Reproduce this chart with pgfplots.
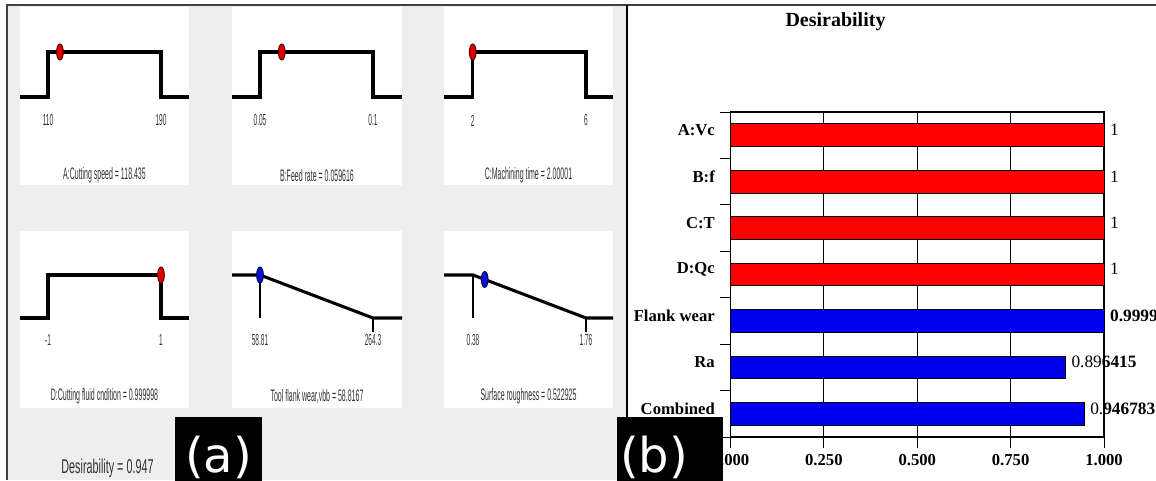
\documentclass[border=0pt]{standalone}
\usepackage{pgfplots}
\pgfplotsset{compat=1.18}
\usepackage{fontspec}
\setmainfont{Liberation Serif}
\newfontfamily\capfont[FakeStretch=0.42]{Liberation Sans}
\newfontfamily\tickfont[FakeStretch=0.41]{Liberation Sans}
\newfontfamily\desfont[FakeStretch=0.54]{Liberation Sans}
\newfontfamily\labfont{DejaVu Sans}
\definecolor{panelgray}{HTML}{EEEEEE}
\definecolor{txtgray}{HTML}{333333}
\definecolor{barred}{HTML}{FF0000}
\definecolor{barblue}{HTML}{0000F0}
\definecolor{ptred}{HTML}{E00000}
\definecolor{ptblue}{HTML}{1010D0}
\pgfplotsset{
 ramp/.style={scale only axis, hide axis, clip=false, anchor=south west},
 row1/.style={height=133.5pt, ymin=-1.956, ymax=2},
 row2/.style={height=132.75pt, ymin=-2.093, ymax=2.023},
 curve/.style={black, line width=2.3pt, no marks, line join=miter},
 vline/.style={black, line width=0.8pt, no marks},
 rpt/.style={only marks, mark=*, mark size=6pt, mark options={xscale=0.42, fill=ptred, draw=black!65!red, line width=0.7pt}},
 bpt/.style={only marks, mark=*, mark size=6pt, mark options={xscale=0.42, fill=ptblue, draw=black!65!blue, line width=0.7pt}},
}
\tikzset{
 ticktxt/.style={font=\tickfont\fontsize{12}{14}\selectfont, text=txtgray},
 captxt/.style={font=\capfont\fontsize{12.5}{14}\selectfont, text=txtgray},
}
\begin{document}
\begin{tikzpicture}
\useasboundingbox (0,0) rectangle (867pt,360pt);
\begin{scope}[x=0.75pt,y=-0.75pt,yshift=360pt]
 \fill[panelgray] (7,4) rectangle (627,480);
 \fill[white] (20,7) rectangle (189,185);
 \fill[white] (232,7) rectangle (402,185);
 \fill[white] (444,7) rectangle (613,185);
 \fill[white] (20,231) rectangle (189,408);
 \fill[white] (232,231) rectangle (402,408);
 \fill[white] (444,231) rectangle (613,408);
\end{scope}

% A: cutting speed
\begin{axis}[ramp,row1,at={(15pt,221.25pt)},width=126.75pt,xmin=90.18,xmax=209.82]
\addplot[curve] coordinates {(90.18,0)(110,0)(110,1)(190,1)(190,0)(209.82,0)};
\addplot[rpt] coordinates {(118.435,1)};
\node[ticktxt] at (axis cs:110,-0.522) {110};
\node[ticktxt] at (axis cs:190,-0.522) {190};
\node[captxt] at (rel axis cs:0.5,0.054) {A:Cutting speed = 118.435};
\end{axis}
% B: feed rate
\begin{axis}[ramp,row1,at={(174pt,221.25pt)},width=127.5pt,xmin=0.037611,xmax=0.112832]
\addplot[curve] coordinates {(0.037611,0)(0.05,0)(0.05,1)(0.1,1)(0.1,0)(0.112832,0)};
\addplot[rpt] coordinates {(0.059616,1)};
\node[ticktxt] at (axis cs:0.05,-0.522) {0.05};
\node[ticktxt] at (axis cs:0.1,-0.522) {0.1};
\node[captxt] at (rel axis cs:0.5,0.054) {B:Feed rate = 0.059616};
\end{axis}
% C: machining time
\begin{axis}[ramp,row1,at={(333pt,221.25pt)},width=126.75pt,xmin=0.987,xmax=6.953]
\addplot[curve] coordinates {(0.987,0)(2,0)(2,1)(6,1)(6,0)(6.953,0)};
\addplot[rpt] coordinates {(2.00001,1)};
\node[ticktxt] at (axis cs:2,-0.522) {2};
\node[ticktxt] at (axis cs:6,-0.522) {6};
\node[captxt] at (rel axis cs:0.5,0.054) {C:Machining time = 2.00001};
\end{axis}
% D: cutting fluid
\begin{axis}[ramp,row2,at={(15pt,54pt)},width=126.75pt,xmin=-1.4956,xmax=1.4956]
\addplot[curve] coordinates {(-1.4956,0)(-1,0)(-1,1)(1,1)(1,0)(1.4956,0)};
\addplot[rpt] coordinates {(0.999998,1)};
\node[ticktxt] at (axis cs:-1,-0.505) {-1};
\node[ticktxt] at (axis cs:1,-0.505) {1};
\node[captxt] at (rel axis cs:0.5,0.064) {D:Cutting fluid cndition = 0.999998};
\end{axis}
% Tool flank wear
\begin{axis}[ramp,row2,at={(174pt,54pt)},width=127.5pt,xmin=7.892,xmax=317.04]
\addplot[vline] coordinates {(58.81,1)(58.81,0)};
\addplot[vline] coordinates {(264.3,0)(264.3,-0.326)};
\addplot[curve] coordinates {(7.892,1)(58.81,1)(264.3,0)(317.04,0)};
\addplot[bpt] coordinates {(58.8167,0.9999)};
\node[ticktxt] at (axis cs:58.81,-0.505) {58.81};
\node[ticktxt] at (axis cs:264.3,-0.505) {264.3};
\node[captxt] at (rel axis cs:0.5,0.064) {Tool flank wear,vbb = 58.8167};
\end{axis}
% Surface roughness
\begin{axis}[ramp,row2,at={(333pt,54pt)},width=126.75pt,xmin=0.02585,xmax=2.0897]
\addplot[vline] coordinates {(0.38,1)(0.38,0)};
\addplot[vline] coordinates {(1.76,0)(1.76,-0.326)};
\addplot[curve] coordinates {(0.02585,1)(0.38,1)(1.76,0)(2.0897,0)};
\addplot[bpt] coordinates {(0.522925,0.896415)};
\node[ticktxt] at (axis cs:0.38,-0.505) {0.38};
\node[ticktxt] at (axis cs:1.76,-0.505) {1.76};
\node[captxt] at (rel axis cs:0.5,0.064) {Surface roughness = 0.522925};
\end{axis}

% (b) desirability bars
\begin{axis}[
 at={(547.9pt,32.25pt)}, anchor=south west, scale only axis,
 width=280.1pt, height=243.75pt,
 xmin=0, xmax=1, ymin=-0.5, ymax=6.5, y dir=reverse,
 xtick={0,0.25,0.5,0.75,1}, xticklabels={0.000,0.250,0.500,0.750,1.000},
 ytick={0,...,6}, yticklabels={A:Vc,B:f,C:T,D:Qc,Flank wear,Ra,Combined},
 minor ytick={-0.5,0.5,...,6.5},
 tick align=outside, major tick length=8.25pt, minor tick length=7.9pt,
 major y tick style={draw=none},
 every tick/.style={black, line width=0.75pt},
 xtick pos=bottom, ytick pos=left,
 xmajorgrids, grid style={black, line width=0.75pt},
 axis line style={black, line width=0.8pt},
 ticklabel style={font=\bfseries\fontsize{12.5}{14}\selectfont},
 yticklabel style={yshift=4pt},
 xticklabel style={yshift=-1pt},
 point meta=explicit symbolic,
 nodes near coords,
 every node near coord/.style={font=\fontsize{13}{15}\selectfont, anchor=west, yshift=4pt, xshift=1pt},
 clip=false,
]
\addplot[xbar, bar width=17pt, bar shift=0pt, fill=barred, draw=black, line width=0.6pt]
 coordinates {(1,0) [1] (1,1) [1] (1,2) [1] (1,3) [1]};
\addplot[xbar, bar width=17pt, bar shift=0pt, fill=barblue, draw=black, line width=0.6pt]
 coordinates {(0.9999,4) [\textbf{0.9999}] (0.896415,5) [0.89\textbf{6415}] (0.946783,6) [0.\textbf{946783}]};
\end{axis}

\begin{scope}[x=0.75pt,y=-0.75pt,yshift=360pt]
 \draw[line width=1.5pt, black!75] (7,480) -- (7,4.5) -- (1160,4.5);
 \draw[line width=1.5pt, black] (627,4.5) -- (627,480);
 \node[font=\bfseries\fontsize{15}{18}\selectfont] at (835.5,22) {Desirability};
 \node[font=\desfont\fontsize{15}{18}\selectfont, text=txtgray] at (107.5,468) {Desirability = 0.947};
 \fill[black] (175,417) rectangle (262,482);
 \node[font=\labfont\fontsize{36}{40}\selectfont, text=white, anchor=base, inner sep=0pt] at (218.5,472) {(a)};
 \fill[black] (617,417) rectangle (723,482);
 \node[font=\labfont\fontsize{36}{40}\selectfont, text=white, anchor=base west, inner sep=0pt] at (620,472) {(b)};
\end{scope}
\end{tikzpicture}
\end{document}
